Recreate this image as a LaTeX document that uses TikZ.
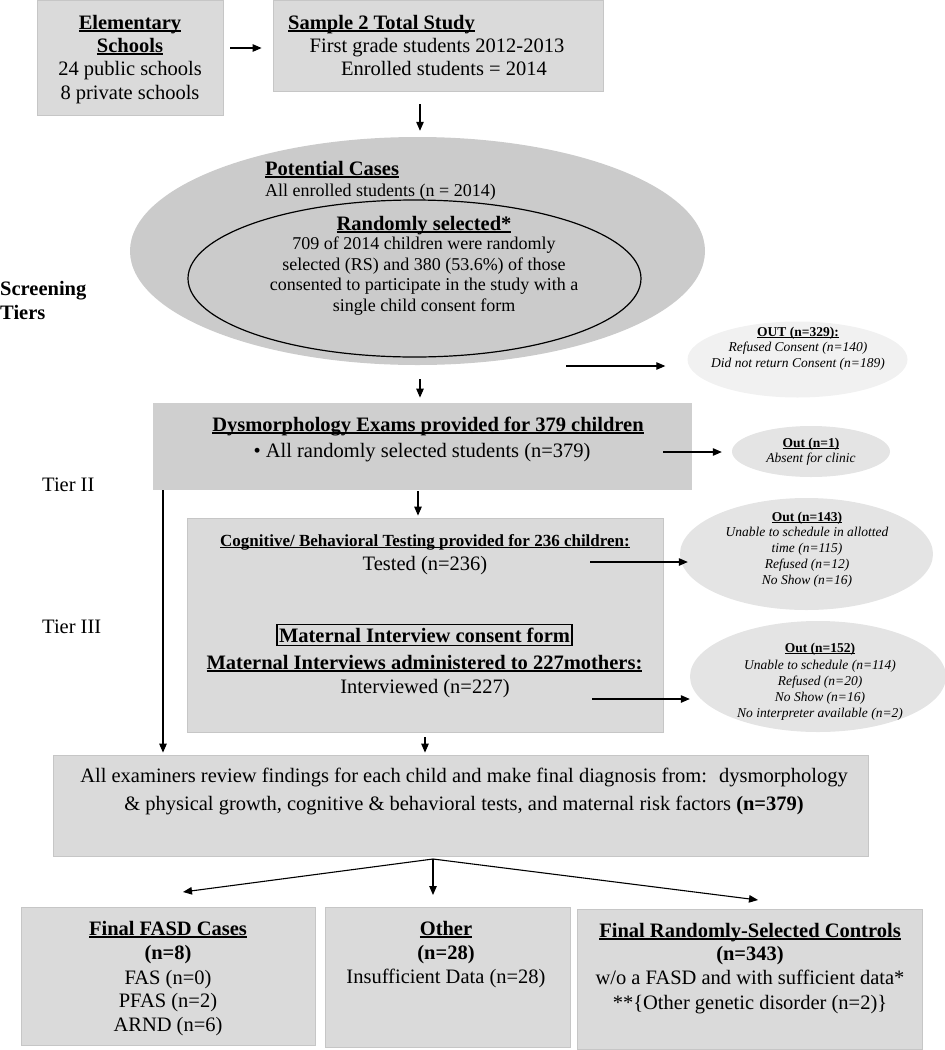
\documentclass[tikz,border=0pt]{standalone}
\usepackage{fontspec}
\setmainfont{Liberation Serif}
\usetikzlibrary{arrows.meta,shapes.geometric,calc}
\definecolor{boxfill}{HTML}{DADADA}
\definecolor{boxdark}{HTML}{CFCFCF}
\definecolor{ellfill}{HTML}{CBCBCB}
\definecolor{outfill}{HTML}{E4E4E4}
\definecolor{outlight}{HTML}{F1F1F1}
\definecolor{edgegray}{HTML}{C6C6C6}
\newcommand{\ulx}[1]{\setbox0=\hbox{#1}\rlap{\rule[-0.14em]{\wd0}{0.07em}}\box0}
\newcommand{\mytl}[5][]{\node[txt,#1] (#2) at (#3,#4) {#5};}
\tikzset{
  panel/.style={draw=edgegray, line width=0.8pt, fill=boxfill, inner sep=0pt, rectangle},
  oval/.style={ellipse, inner sep=0pt, draw=none},
  txt/.style={font=\fontsize{20.5}{24}\selectfont, inner sep=0pt, anchor=base},
  mid/.style={font=\fontsize{18}{21}\selectfont},
  small/.style={font=\fontsize{13.5}{16}\selectfont\itshape},
  smallb/.style={font=\fontsize{13.5}{16}\selectfont\bfseries},
  lft/.style={anchor=base west},
  arr/.style={line width=1.1pt, -{Triangle[length=9pt,width=7.5pt]}}
}
\begin{document}
\begin{tikzpicture}[x=1pt,y=-1pt]
\useasboundingbox (0,0) rectangle (945,1050);
% ---- shapes ----
\node[panel, minimum width=186pt, minimum height=115pt] (elem) at (130,57.5) {};
\node[panel, minimum width=330pt, minimum height=91pt] (sample) at (438,45.5) {};
\node[oval, fill=ellfill, minimum width=575pt, minimum height=228pt] (outer) at (417.5,251) {};
\node[oval, fill=ellfill, draw=black, line width=1.2pt, minimum width=453pt, minimum height=157pt] (inner) at (414.5,278.5) {};
\node[oval, fill=outlight, minimum width=220pt, minimum height=76pt] (out329) at (797.5,359.5) {};
\node[panel, fill=boxdark, draw=none, minimum width=539pt, minimum height=87pt] (dysm) at (422.5,446.5) {};
\node[oval, fill=outfill, minimum width=158pt, minimum height=51pt] (out1) at (811,451.5) {};
\node[panel, minimum width=476pt, minimum height=214pt] (cog) at (425,625) {};
\node[oval, fill=outfill, minimum width=253pt, minimum height=112pt] (out143) at (806.5,554) {};
\node[oval, fill=outfill, minimum width=256pt, minimum height=111pt] (out152) at (818,676.5) {};
\node[panel, minimum width=815pt, minimum height=101pt] (final) at (460.5,805.5) {};
\node[panel, minimum width=294pt, minimum height=138pt] (b1) at (168,976) {};
\node[panel, minimum width=245pt, minimum height=140pt] (b2) at (447.5,977) {};
\node[panel, minimum width=345pt, minimum height=140pt] (b3) at (749.5,979) {};
% ---- helper coordinates ----
\coordinate (ya) at (0,48);
\coordinate (xc) at (420,0);
\coordinate (xd) at (418,0);
\coordinate (xl) at (163,0);
\coordinate (o1s) at (566,366);
\coordinate (o2s) at (663,452);
\coordinate (o3s) at (590,562);
\coordinate (o4s) at (592,699);
\coordinate (fo) at (433,859);
\coordinate (t1) at (183,892);
\coordinate (t2) at (433,895);
\coordinate (t3) at (758,900);
% ---- connectors ----
\draw[arr, shorten <=7pt, shorten >=11pt] (elem.east |- ya) -- (sample.west |- ya);
\draw[arr, shorten <=13pt, shorten >=6pt] (sample.south -| xc) -- (outer.north -| xc);
\draw[arr, shorten <=14pt, shorten >=5pt] (outer.south -| xc) -- (dysm.north -| xc);
\draw[arr, shorten >=22pt] (o1s) -- (o1s -| out329.west);
\draw[arr, shorten >=10pt] (o2s) -- (o2s -| out1.west);
\draw[arr, shorten <=1pt, shorten >=2pt] (dysm.south -| xd) -- (cog.north -| xd);
\draw[arr] (o3s) -- ($(o3s -| out143.west)+(8,0)$);
\draw[arr] (o4s) -- (o4s -| out152.west);
\draw[arr, shorten >=2pt] (dysm.south -| xl) -- (final.north -| xl);
\draw[arr, shorten <=5pt, shorten >=2pt] (cog.south) -- (final.north -| cog.south);
\draw[arr] (fo) -- (t1);
\draw[arr] (fo) -- (t2);
\draw[arr] (fo) -- (t3);
% ---- texts: top boxes ----
\mytl{e1}{130}{29}{\ulx{\textbf{Elementary}}}
\mytl{e2}{130}{52}{\ulx{\textbf{Schools}}}
\mytl{e3}{130}{75}{24 public schools}
\mytl{e4}{130}{99}{8 private schools}
\mytl[lft]{s1}{288}{29}{\ulx{\textbf{Sample 2 Total Study}}}
\mytl{s2}{437}{52}{First grade students 2012-2013}
\mytl{s3}{444}{75}{Enrolled students = 2014}
% ---- ellipse texts ----
\mytl[lft]{p1}{265}{175}{\ulx{\textbf{Potential Cases}}}
\mytl[lft,mid]{p2}{265}{196}{All enrolled students (n = 2014)}
\mytl{r1}{424}{230}{\ulx{\textbf{Randomly selected*}}}
\mytl[mid]{r2}{424}{249.5}{709 of 2014 children were randomly}
\mytl[mid]{r3}{424}{270}{selected (RS) and 380 (53.6\%) of those}
\mytl[mid]{r4}{424}{290.5}{consented to participate in the study with a}
\mytl[mid]{r5}{424}{311}{single child consent form}
% ---- tier labels ----
\mytl[lft]{sc1}{0}{295}{\textbf{Screening}}
\mytl[lft]{sc2}{0}{319}{\textbf{Tiers}}
\mytl[lft]{tier2}{42}{491}{Tier II}
\mytl[lft]{tier3}{42}{633}{Tier III}
% ---- out ellipses ----
\mytl[smallb]{q1}{798}{336.5}{\ulx{OUT (n=329):}}
\mytl[small]{q2}{798}{351.5}{Refused Consent (n=140)}
\mytl[small]{q3}{798}{367.5}{Did not return Consent (n=189)}
\mytl[smallb]{u1}{811}{447.5}{\ulx{Out (n=1)}}
\mytl[small]{u2}{811}{462}{Absent for clinic}
\mytl[smallb]{v1}{807}{521.5}{\ulx{Out (n=143)}}
\mytl[small]{v2}{807}{536.5}{Unable to schedule in allotted}
\mytl[small]{v3}{807}{552.5}{time (n=115)}
\mytl[small]{v4}{807}{568.5}{Refused (n=12)}
\mytl[small]{v5}{807}{584.5}{No Show (n=16)}
\mytl[smallb]{w1}{820}{652.5}{\ulx{Out (n=152)}}
\mytl[small]{w2}{820}{669.5}{Unable to schedule (n=114)}
\mytl[small]{w3}{820}{685.5}{Refused (n=20)}
\mytl[small]{w4}{820}{701.5}{No Show (n=16)}
\mytl[small]{w5}{820}{717.5}{No interpreter available (n=2)}
% ---- dysmorphology ----
\mytl{d1}{428}{431}{\ulx{\textbf{Dysmorphology Exams provided for 379 children}}}
\mytl{d2}{422}{457}{• All randomly selected students (n=379)}
% ---- cognitive / maternal ----
\mytl[font=\fontsize{17}{20}\selectfont\bfseries]{c1}{425}{546}{\ulx{Cognitive/ Behavioral Testing provided for 236 children:}}
\mytl{c2}{425}{570}{Tested (n=236)}
\node[draw=black, line width=1.2pt, font=\fontsize{20.5}{24}\selectfont\bfseries, inner xsep=2pt, inner ysep=3pt] (consent) at (424.5,635) {Maternal Interview consent form};
\mytl{m2}{424.5}{669}{\ulx{\textbf{Maternal Interviews administered to 227mothers:}}}
\mytl{m3}{425}{693}{Interviewed (n=227)}
% ---- final ----
\mytl{f1}{464}{782}{All examiners review findings for each child and make final diagnosis from:~ dysmorphology}
\mytl{f2}{464}{810}{\& physical growth, cognitive \& behavioral tests, and maternal risk factors \textbf{(n=379)}}
% ---- bottom ----
\mytl{g1}{168}{935}{\ulx{\textbf{Final FASD Cases}}}
\mytl{g2}{168}{959}{\textbf{(n=8)}}
\mytl{g3}{168}{984}{FAS (n=0)}
\mytl{g4}{168}{1007}{PFAS (n=2)}
\mytl{g5}{168}{1031}{ARND (n=6)}
\mytl{h1}{446}{935}{\ulx{\textbf{Other}}}
\mytl{h2}{446}{959}{\textbf{(n=28)}}
\mytl{h3}{446}{983}{Insufficient Data (n=28)}
\mytl{k1}{750}{937}{\ulx{\textbf{Final Randomly-Selected Controls}}}
\mytl{k2}{750}{960}{\textbf{(n=343)}}
\mytl{k3}{750}{984}{w/o a FASD and with sufficient data*}
\mytl{k4}{750}{1009}{**\{Other genetic disorder (n=2)\}}
\end{tikzpicture}
\end{document}
